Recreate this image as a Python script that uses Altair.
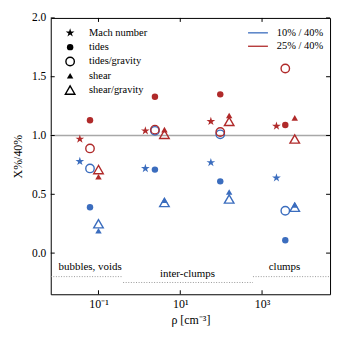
import altair as alt
import pandas as pd

# ---------------- data ----------------
series = ["10% / 40%", "25% / 40%"]
colors = ["#3b6dbe", "#b02a2a"]
kinds = ["Mach number", "tides", "tides/gravity", "shear", "shear/gravity"]

rho_star = [0.035, 1.4, 56, 2250]
rho_circle = [0.062, 2.4, 95, 3700]
rho_tri = [0.10, 4.1, 157, 6300]

blue_mach = [0.78, 0.72, 0.77, 0.64]
blue_tides = [0.39, 0.71, 0.61, 0.11]
blue_tides_grav = [0.72, 1.04, 1.01, 0.36]
blue_shear = [0.19, 0.45, 0.52, 0.41]
blue_shear_grav = [0.25, 0.43, 0.46, 0.39]

red_mach = [0.97, 1.04, 1.12, 1.08]
red_tides = [1.13, 1.33, 1.35, 1.09]
red_tides_grav = [0.89, 1.05, 1.03, 1.57]
red_shear = [0.65, 1.05, 1.17, 1.15]
red_shear_grav = [0.71, 1.01, 1.12, 0.97]

regions = ["bubbles, voids", "inter-clumps", "clumps"]
region_start = [0.0068, 0.4, 600]
region_end = [0.4, 600, 46000]
region_line_y = [-0.2, -0.25, -0.2]
region_label_x = [0.0625, 15, 3550]
region_label_y = [-0.12, -0.18, -0.12]

x_ticks = [0.1, 10, 1000]
x_tick_labels = ["10⁻¹", "10¹", "10³"]
y_ticks = [0.0, 0.5, 1.0, 1.5, 2.0]
x_domain = [0.0068, 46000]
y_domain = [-0.35, 2.0]

# ---------------- layout / style ----------------
W, H = 281, 278
FONT = "Liberation Serif"
STAR = ("M0,-1L0.2245,-0.309L0.951,-0.309L0.363,0.118L0.588,0.809L0,0.382"
        "L-0.588,0.809L-0.363,0.118L-0.951,-0.309L-0.2245,-0.309Z")

rows = []
vals = {
    series[0]: [blue_mach, blue_tides, blue_tides_grav, blue_shear, blue_shear_grav],
    series[1]: [red_mach, red_tides, red_tides_grav, red_shear, red_shear_grav],
}
xpos = [rho_star, rho_circle, rho_circle, rho_tri, rho_tri]
for s in series:
    for k, kind in enumerate(kinds):
        for g in range(4):
            rows.append({"rho": xpos[k][g], "value": vals[s][k][g], "series": s, "kind": kind})
df = pd.DataFrame(rows)

xs = alt.Scale(type="log", domain=x_domain, nice=False)
ys = alt.Scale(domain=y_domain, nice=False, zero=False)
cs = alt.Scale(domain=series, range=colors)

label_expr = "[" + ",".join("'%s'" % l for l in x_tick_labels) + "][indexof([" + \
    ",".join(str(v) for v in x_ticks) + "], datum.value)]"

x_axis = alt.Axis(values=x_ticks, labelExpr=label_expr, ticks=False, domain=False, grid=False,
                  labelFont=FONT, labelFontSize=12, labelColor="black", labelPadding=4,
                  title="ρ [cm⁻³]", titleFont=FONT, titleFontSize=12, titleFontWeight="normal",
                  titleColor="black", titlePadding=5)
y_axis = alt.Axis(values=y_ticks, format=".1f", ticks=False, domain=False, grid=False,
                  labelFont=FONT, labelFontSize=11.5, labelColor="black", labelPadding=5,
                  title="X%/40%", titleFont=FONT, titleFontSize=12, titleFontWeight="normal",
                  titleColor="black", titlePadding=7)


def X(field):
    return alt.X(field, scale=xs, axis=x_axis)


def Y(field):
    return alt.Y(field, scale=ys, axis=y_axis)


base = alt.Chart(df)

# horizontal reference line at 1
ref = alt.Chart(pd.DataFrame({"y": [1.0]})).mark_rule(color="#a8a8a8", strokeWidth=1.6).encode(
    y=Y("y:Q"))

# region lines and labels
reg_df = pd.DataFrame({"name": regions, "x0": region_start, "x1": region_end,
                       "ly": region_line_y, "tx": region_label_x, "ty": region_label_y})
reg_lines = alt.Chart(reg_df).mark_rule(color="#9a9a9a", strokeWidth=1, strokeDash=[1, 1.6]).encode(
    x=X("x0:Q"), x2="x1:Q", y=Y("ly:Q"))
reg_text = alt.Chart(reg_df).mark_text(font=FONT, fontSize=11, color="black", baseline="middle").encode(
    x=X("tx:Q"), y=Y("ty:Q"), text="name:N")


def pts(kind, shape, size, filled):
    d = base.transform_filter(alt.datum.kind == kind)
    if filled:
        m = d.mark_point(shape=shape, size=size, filled=True, opacity=1, strokeWidth=0)
    else:
        m = d.mark_point(shape=shape, size=size, filled=False, opacity=1, strokeWidth=1.4)
    return m.encode(
        x=X("rho:Q"),
        y=Y("value:Q"),
        color=alt.Color("series:N", scale=cs, legend=None),
    )


layers = [
    pts("tides/gravity", "circle", 72, False),
    pts("shear/gravity", "triangle-up", 92, False),
    pts("Mach number", STAR, 85, True),
    pts("tides", "circle", 42, True),
    pts("shear", "triangle-up", 42, True),
]

# inward ticks on all four sides
xt = pd.DataFrame({"t": x_ticks})
yt = pd.DataFrame({"t": y_ticks})
tick_b = alt.Chart(xt).mark_rule(color="black", strokeWidth=1).encode(
    x=X("t:Q"), y=alt.value(H), y2=alt.value(H - 4))
tick_t = alt.Chart(xt).mark_rule(color="black", strokeWidth=1).encode(
    x=X("t:Q"), y=alt.value(0), y2=alt.value(4))
tick_l = alt.Chart(yt).mark_rule(color="black", strokeWidth=1).encode(
    y=Y("t:Q"), x=alt.value(0), x2=alt.value(4))
tick_r = alt.Chart(yt).mark_rule(color="black", strokeWidth=1).encode(
    y=Y("t:Q"), x=alt.value(W), x2=alt.value(W - 4))

# manual legends
leg = []
leg_shapes = [STAR, "circle", "circle", "triangle-up", "triangle-up"]
leg_sizes = [85, 42, 72, 42, 92]
leg_filled = [True, True, False, True, False]
for i, kind in enumerate(kinds):
    yy = 15 + 14.4 * i
    ld = alt.Chart(pd.DataFrame({"label": [kind]}))
    if leg_filled[i]:
        sym = ld.mark_point(shape=leg_shapes[i], size=leg_sizes[i], filled=True, color="black",
                            opacity=1, strokeWidth=0)
    else:
        sym = ld.mark_point(shape=leg_shapes[i], size=leg_sizes[i], filled=False, color="black",
                            opacity=1, strokeWidth=1.4)
    leg.append(sym.encode(x=alt.value(19.5), y=alt.value(yy)))
    leg.append(ld.mark_text(font=FONT, fontSize=10.5, align="left", baseline="middle", color="black")
               .encode(x=alt.value(38.5), y=alt.value(yy), text="label:N"))
for i, s in enumerate(series):
    yy = 15 + 13.5 * i
    ld = alt.Chart(pd.DataFrame({"label": [s]}))
    leg.append(ld.mark_rule(color=colors[i], strokeWidth=1.3).encode(
        x=alt.value(198.5), x2=alt.value(218.5), y=alt.value(yy)))
    leg.append(ld.mark_text(font=FONT, fontSize=10.5, align="left", baseline="middle", color="black")
               .encode(x=alt.value(227.5), y=alt.value(yy), text="label:N"))

chart = alt.layer(ref, reg_lines, reg_text, *layers, tick_b, tick_t, tick_l, tick_r, *leg).properties(
    width=W, height=H,
    autosize=alt.AutoSizeParams(type="none"),
    padding={"left": 43, "top": 9, "right": 8, "bottom": 40},
).configure_view(stroke="black", strokeWidth=1)

chart.save("out.html", embed_options={"renderer": "svg", "actions": False})
